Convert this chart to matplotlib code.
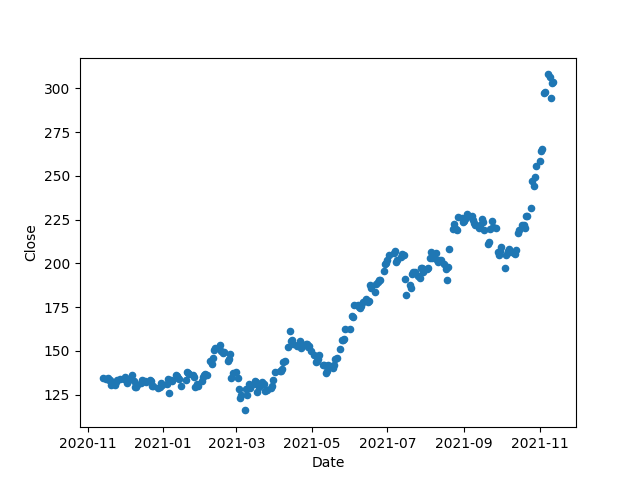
import matplotlib
matplotlib.use("Agg")
import matplotlib.pyplot as plt
import pandas as pd
from pandas.tseries.offsets import CustomBusinessDay

holidays = ["2020-11-26", "2020-12-25", "2021-01-01", "2021-01-18", "2021-02-15",
            "2021-04-02", "2021-05-31", "2021-07-05", "2021-09-06"]

nov20 = [134.5, 134.0, 134.8, 133.2, 133.3, 130.8, 130.3, 132.5, 133.3, 133.8, 134.0]
dec20 = [135.3, 134.2, 131.9, 134.0, 136.3, 133.0, 129.1, 129.5, 130.6, 131.8, 133.2,
         132.8, 133.0, 132.5, 133.6, 132.9, 130.2, 130.0, 129.0, 129.4, 131.4, 130.6]
jan21 = [131.1, 134.0, 126.1, 133.4, 133.0, 136.4, 135.6, 134.5, 134.1, 129.9, 133.2,
         137.9, 137.1, 136.6, 136.2, 135.0, 129.5, 131.0, 129.9]
feb21 = [132.9, 135.2, 136.5, 136.6, 136.0, 144.5, 142.3, 146.0, 150.4, 151.5, 153.2,
         150.0, 148.8, 149.6, 144.3, 145.2, 148.0, 134.3, 137.1]
mar21 = [138.0, 134.6, 128.5, 123.1, 124.8, 116.0, 128.0, 125.0, 131.0, 129.0, 131.0,
         132.6, 132.0, 126.4, 129.5, 132.0, 131.3, 127.3, 127.5, 127.8, 128.8, 130.0, 133.5]
apr21 = [138.0, 138.3, 138.8, 139.8, 143.5, 144.3, 152.3, 161.3, 155.5, 156.0, 154.0,
         152.8, 153.3, 155.4, 151.5, 153.3, 154.0, 153.8, 152.3, 152.8, 150.0]
may21 = [147.8, 143.8, 144.3, 145.5, 147.5, 141.8, 142.0, 137.3, 138.8, 142.0, 141.3,
         140.0, 141.8, 145.3, 146.0, 151.0, 156.0, 156.5, 157.0, 162.5]
jun21 = [162.4, 170.0, 169.2, 176.3, 176.0, 175.2, 174.5, 175.6, 178.0, 179.8, 178.1,
         178.5, 187.5, 186.1, 183.8, 188.3, 189.6, 190.8, 190.6, 195.8, 199.6, 200.0]
jul21 = [202.0, 204.8, 205.8, 207.3, 200.8, 201.7, 203.4, 205.6, 204.9, 190.9, 181.7,
         187.8, 186.1, 194.1, 195.2, 195.1, 192.9, 191.5, 197.2, 197.5, 195.0]
aug21 = [197.0, 197.5, 203.0, 206.5, 203.2, 206.0, 201.9, 200.8, 202.0, 201.9, 199.6,
         196.6, 190.6, 197.8, 208.2, 219.6, 222.5, 219.7, 219.2, 226.4, 225.7, 223.9]
sep21 = [224.1, 225.9, 228.0, 227.2, 224.9, 223.0, 222.0, 220.0, 222.0, 225.6, 223.8,
         219.2, 211.1, 212.5, 219.6, 224.1, 220.6, 220.0, 206.7, 205.0, 207.2]
oct21 = [209.1, 197.3, 204.9, 207.0, 208.3, 206.7, 206.0, 205.4, 207.8, 217.3, 219.0,
         222.2, 222.1, 220.1, 226.9, 227.3, 231.6, 247.2, 244.5, 249.4, 255.7]
nov21 = [258.3, 264.0, 265.6, 297.5, 297.8, 308.0, 306.7, 294.4, 303.3, 303.6]

close = nov20 + dec20 + jan21 + feb21 + mar21 + apr21 + may21 + jun21 + jul21 + aug21 + sep21 + oct21 + nov21
dates = pd.date_range("2020-11-13", "2021-11-12", freq=CustomBusinessDay(holidays=holidays))
n = min(len(dates), len(close))
df = pd.DataFrame({"Date": dates[:n], "Close": close[:n]})

fig, ax = plt.subplots(figsize=(6.4, 4.8), dpi=100)
ax.scatter(df["Date"], df["Close"], s=20, color="#1f77b4")
ax.set_xlabel("Date")
ax.set_ylabel("Close")
fig.savefig("out.png")
